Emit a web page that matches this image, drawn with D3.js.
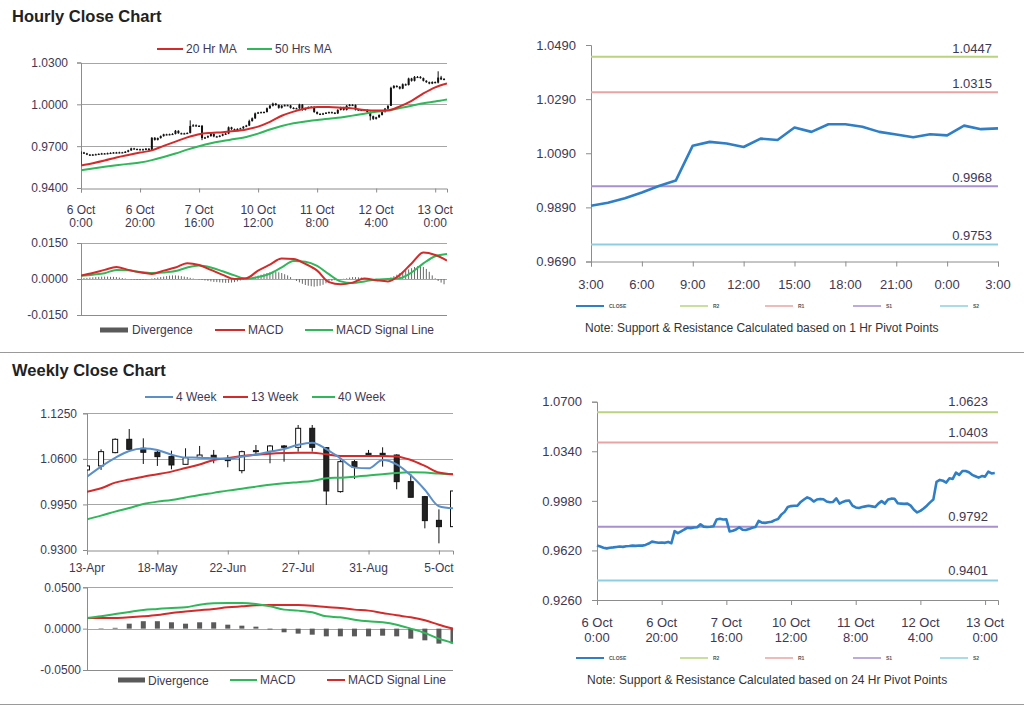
<!DOCTYPE html>
<html><head><meta charset="utf-8">
<script src="https://cdn.jsdelivr.net/npm/d3@7/dist/d3.min.js"></script>
<style>
body{margin:0;background:#fff;}
svg{display:block;font-family:"Liberation Sans",Arial,sans-serif;}
</style></head><body>
<svg id="c" width="1024" height="706"></svg>
<script>
// ---------------- DATA ----------------
// Hourly closes, 6 Oct 0:00 (index 0) ... 13 Oct 3:00 (index 123)
const hourClose = [
0.9655,0.9648,0.9640,0.9635,0.9640,0.9642,0.9645,0.9648,0.9646,0.9650,
0.9652,0.9655,0.9653,0.9656,0.9655,0.9660,0.9670,0.9684,0.9680,0.9676,
0.9678,0.9675,0.9682,0.9672,0.9760,0.9745,0.9758,0.9772,0.9785,0.9782,
0.9786,0.9788,0.9810,0.9793,0.9790,0.9792,0.9795,0.9845,0.9850,0.9845,
0.9846,0.9758,0.9763,0.9772,0.9788,0.9770,0.9768,0.9775,0.9785,0.9790,
0.9835,0.9822,0.9820,0.9824,0.9828,0.9840,0.9848,0.9880,0.9900,0.9935,
0.9942,0.9944,0.9945,0.9972,0.9990,1.0005,0.9995,0.9975,0.9990,0.9994,
0.9992,0.9975,0.9970,0.9972,0.9998,0.9960,0.9972,0.9980,0.9982,0.9945,
0.9932,0.9928,0.9935,0.9940,0.9944,0.9940,0.9935,0.9960,0.9978,0.9960,
0.9990,0.9996,0.9995,0.9962,0.9960,0.9958,0.9960,0.9945,0.9915,0.9896,
0.9907,0.9924,0.9945,0.9969,0.9989,1.0118,1.0132,1.0126,1.0113,1.0144,
1.0139,1.0185,1.0169,1.0197,1.0197,1.0188,1.0169,1.0159,1.0149,1.0160,
1.0156,1.0192,1.0179,1.0182];
// wick extents in pips above / below the candle body
const hourUpWick = [
10,4,4,3,4,4,3,4,3,4, 4,3,4,4,3,5,4,5,4,3, 4,4,5,3,5,5,4,5,4,4,
4,5,6,4,4,4,4,40,8,6, 5,6,4,5,6,4,4,4,5,5, 6,4,4,4,4,5,5,10,6,6,
4,4,4,5,6,7,5,4,5,5, 4,4,4,4,6,4,4,5,5,4, 4,4,4,4,4,4,4,5,5,4,
5,6,5,4,4,4,4,4,4,4, 4,4,4,5,5,8,6,5,5,6, 5,6,5,6,6,5,4,4,4,5,
4,45,12,6];
const hourDownWick = [
95,4,4,4,3,4,3,4,3,4, 3,4,4,4,3,4,4,4,4,4, 4,4,4,4,0,5,4,4,4,4,
4,4,4,4,5,4,4,4,5,5, 4,15,6,5,4,6,4,4,4,4, 4,5,4,4,4,4,4,4,4,5,
4,4,4,4,5,5,5,6,5,4, 4,5,5,4,5,6,4,4,4,6, 5,5,4,4,4,4,5,4,4,5,
4,4,4,6,4,4,4,6,30,8, 5,4,4,4,4,0,6,5,6,4, 5,4,6,5,4,4,5,5,5,4,
5,6,5,4];

// hourly moving averages sampled every 4 hours
const hourMaIdx = [0,4,8,12,16,20,24,28,32,36,40,44,48,52,56,60,64,68,72,76,80,84,88,92,96,100,104,108,112,116,120,124];
const ma20Hr = [0.9562,0.9578,0.9597,0.9619,0.9637,0.9654,0.9670,0.9702,0.9733,0.9763,0.9786,0.9795,0.9800,0.9808,0.9820,0.9840,
0.9874,0.9918,0.9948,0.9970,0.9981,0.9980,0.9976,0.9971,0.9960,0.9955,0.9957,0.9985,1.0025,1.0078,1.0122,1.0150];
const ma50Hr = [0.9527,0.9540,0.9552,0.9563,0.9573,0.9583,0.9600,0.9622,0.9647,0.9675,0.9700,0.9721,0.9737,0.9751,0.9766,0.9790,
0.9820,0.9845,0.9865,0.9877,0.9888,0.9897,0.9905,0.9919,0.9933,0.9946,0.9955,0.9973,0.9990,1.0008,1.0020,1.0034];
// hourly MACD sampled every 4 hours
const hourMacd = [0.0015,0.0025,0.0038,0.0050,0.0038,0.0028,0.0021,0.0035,0.0048,0.0066,0.0058,0.0038,0.0017,0.0000,0.0003,0.0035,
0.0060,0.0085,0.0083,0.0063,0.0035,-0.0013,-0.0022,-0.0015,0.0002,-0.0005,-0.0010,0.0017,0.0065,0.0110,0.0100,0.0077];
const hourSignal = [0.0013,0.0018,0.0024,0.0038,0.0036,0.0029,0.0025,0.0027,0.0033,0.0048,0.0056,0.0048,0.0032,0.0015,0.0001,0.0008,
0.0022,0.0048,0.0075,0.0072,0.0055,0.0020,-0.0010,-0.0017,-0.0010,-0.0002,0.0000,0.0003,0.0027,0.0065,0.0095,0.0104];
const hourDiverg = [
0.0003,0.0004,0.0005,0.0006,
0.0007,0.0008,0.0009,0.0010,0.0010,0.0010,0.0009,0.0009,0.0008,0.0006,0.0004,0.0002,
0.0000,-0.0002,-0.0003,-0.0004,-0.0004,-0.0003,-0.0002,
0.0000,0.0002,0.0004,0.0006,0.0008,
0.0010,0.0012,0.0014,0.0015,0.0015,0.0014,0.0012,0.0010,0.0008,0.0005,
0.0002,0.0000,-0.0002,
-0.0004,-0.0006,-0.0008,-0.0010,-0.0012,-0.0013,-0.0014,-0.0015,-0.0016,-0.0016,-0.0015,-0.0013,-0.0010,
-0.0006,-0.0003,0.0000,0.0003,0.0006,
0.0010,0.0014,0.0018,0.0022,0.0025,0.0028,0.0030,0.0030,0.0028,0.0025,0.0020,0.0015,
0.0008,0.0000,-0.0008,-0.0014,-0.0020,-0.0025,-0.0028,-0.0030,-0.0032,-0.0030,-0.0028,-0.0024,-0.0018,-0.0012,-0.0008,
-0.0005,-0.0003,-0.0001,0.0001,0.0003,
0.0006,0.0008,0.0008,0.0007,0.0006,0.0004,
0.0002,0.0000,-0.0001,-0.0002,-0.0002,-0.0001,0.0000,0.0002,
0.0006,0.0012,0.0018,0.0024,0.0030,0.0036,0.0040,0.0045,0.0050,0.0053,0.0055,0.0050,0.0042,0.0030,0.0015,
0.0003,-0.0008,-0.0015,-0.0022];

const hourTickIdx = [0,20,40,60,80,100,120];
const hourTickLabels = [["6 Oct","0:00"],["6 Oct","20:00"],["7 Oct","16:00"],["10 Oct","12:00"],["11 Oct","8:00"],["12 Oct","4:00"],["13 Oct","0:00"]];
const hourYTicks = [0.9400,0.9700,1.0000,1.0300];
const hourMacdTicks = [-0.0150,0.0000,0.0150];

// 1 hr pivots (top-right): last 25 hourly closes, 3:00 .. 3:00
const pivotStart1h = 99;
const shortTickLabels = ["3:00","6:00","9:00","12:00","15:00","18:00","21:00","0:00","3:00"];
const shortYTicks = [0.9690,0.9890,1.0090,1.0290,1.0490];
const pivot1hNames = ["R2","R1","S1","S2"];
const pivot1hValues = [1.0447,1.0315,0.9968,0.9753];
// 24 hr pivots (bottom-right)
const longYTicks = [0.9260,0.9620,0.9980,1.0340,1.0700];
const pivot24hValues = [1.0623,1.0403,0.9792,0.9401];
const pivotColors = ["#b9d37f","#e8a4a4","#a78fd0","#8ccfe2"];

// Weekly candles, week of 13-Apr (0) ... 12-Oct (26)
const weekOpen  = [1.0442,1.0499,1.0689,1.0879,1.0751,1.0694,1.0632,1.0522,1.0617,1.0651,1.0603,1.0432,1.0717,1.0708,1.0784,1.0765,1.1036,1.0760,1.0133,1.0560,1.0679,1.0679,1.0655,1.0275,1.0061,0.9723,0.9633];
const weekHigh  = [1.0505,1.0736,1.0893,1.1026,1.0893,1.0736,1.0717,1.0751,1.0784,1.0727,1.0655,1.0717,1.0798,1.0798,1.0798,1.1083,1.1083,1.0760,1.0584,1.0584,1.0727,1.0765,1.0665,1.0385,1.0071,0.9880,1.0142];
const weekLow   = [1.0435,1.0442,1.0680,1.0727,1.0527,1.0499,1.0451,1.0522,1.0617,1.0537,1.0480,1.0394,1.0655,1.0537,1.0560,1.0703,1.0703,0.9942,1.0118,1.0313,1.0651,1.0489,1.0166,1.0052,0.9609,0.9395,0.9633];
const weekClose = [1.0499,1.0703,1.0879,1.0736,1.0694,1.0632,1.0513,1.0617,1.0655,1.0608,1.0575,1.0703,1.0708,1.0784,1.0765,1.1036,1.0765,1.0142,1.0560,1.0480,1.0660,1.0655,1.0275,1.0052,0.9719,0.9633,1.0142];
const ma4Week  = [1.0346,1.0490,1.0615,1.0713,1.0748,1.0727,1.0660,1.0620,1.0617,1.0608,1.0600,1.0630,1.0662,1.0703,1.0740,1.0800,1.0830,1.0740,1.0608,1.0475,1.0465,1.0584,1.0522,1.0365,1.0160,0.9925,0.9895];
const ma13Week = [1.0132,1.0180,1.0261,1.0305,1.0346,1.0380,1.0418,1.0470,1.0520,1.0584,1.0610,1.0640,1.0658,1.0672,1.0682,1.0689,1.0689,1.0665,1.0641,1.0641,1.0641,1.0641,1.0635,1.0584,1.0500,1.0405,1.0380];
const ma40Week = [0.9738,0.9790,0.9847,0.9900,0.9956,0.9990,1.0013,1.0050,1.0085,1.0115,1.0147,1.0175,1.0204,1.0230,1.0251,1.0268,1.0285,1.0323,1.0332,1.0346,1.0361,1.0380,1.0400,1.0408,1.0404,1.0390,1.0380];
const weekMacd   = [0.0129,0.0149,0.0177,0.0202,0.0226,0.0238,0.0250,0.0258,0.0290,0.0306,0.0310,0.0310,0.0298,0.0270,0.0230,0.0218,0.0198,0.0149,0.0137,0.0109,0.0089,0.0077,0.0048,0.0000,-0.0052,-0.0121,-0.0173];
const weekSignal = [0.0129,0.0129,0.0129,0.0137,0.0149,0.0165,0.0190,0.0206,0.0222,0.0238,0.0258,0.0270,0.0282,0.0286,0.0286,0.0286,0.0278,0.0262,0.0250,0.0230,0.0218,0.0190,0.0161,0.0137,0.0101,0.0048,0.0000];
const weekDiverg = [0,0.0005,0.0010,0.0060,0.0090,0.0090,0.0077,0.0060,0.0077,0.0077,0.0048,0.0036,0.0024,-0.0010,-0.0044,-0.0060,-0.0073,-0.0093,-0.0093,-0.0093,-0.0093,-0.0085,-0.0093,-0.0121,-0.0141,-0.0181,-0.0180];
const weekTickIdx = [0,5,10,15,20,25];
const weekTickLabels = ["13-Apr","18-May","22-Jun","27-Jul","31-Aug","5-Oct"];
const weekYTicks = [0.9300,0.9950,1.0600,1.1250];
const weekMacdTicks = [-0.0500,0.0000,0.0500];

// ---------------- STYLE ----------------
const RED = "#d42a2a", GREEN = "#2fb75a", BLUE4 = "#5b8fc9", CLOSEBLUE = "#2f7fc6";
const GRID = "#a6a6a6", AXIS = "#8c8c8c", TXT = "#3e3852", BAR = "#5a5a5a";
const fmt = d => d.toFixed(4);

const svg = d3.select("#c");
svg.append("rect").attr("width",1024).attr("height",706).attr("fill","#fff");
const defs = svg.append("defs");

function text(x,y,s,opt={}){
  return svg.append("text").attr("x",x).attr("y",y).text(s)
    .attr("font-size",opt.size||12).attr("fill",opt.fill||TXT)
    .attr("text-anchor",opt.anchor||"start").attr("font-weight",opt.weight||"normal");
}
function clip(id,x0,y0,x1,y1){
  defs.append("clipPath").attr("id",id).append("rect").attr("x",x0).attr("y",y0-3).attr("width",x1-x0).attr("height",y1-y0+6);
  return "url(#"+id+")";
}
// left-style y axis with gridlines
function yAxisGrid(y, ticks, x0, x1, gridTicks, pad){
  svg.append("g").selectAll("line").data(gridTicks).join("line")
    .attr("x1",x0).attr("x2",x1).attr("y1",d=>Math.round(y(d))+0.5).attr("y2",d=>Math.round(y(d))+0.5)
    .attr("stroke",GRID).attr("stroke-width",1);
  const ax = svg.append("g").attr("transform",`translate(${x0},0)`)
    .call(d3.axisLeft(y).tickValues(ticks).tickFormat(fmt).tickSize(4).tickPadding(pad));
  ax.select(".domain").attr("stroke",AXIS);
  ax.selectAll(".tick line").attr("stroke",AXIS);
  ax.selectAll("text").attr("fill",TXT).attr("font-size",12).attr("font-family","Liberation Sans, Arial, sans-serif");
  return ax;
}
function legendLine(x1,x2,y,color,label,w=2){
  svg.append("line").attr("x1",x1).attr("x2",x2).attr("y1",y).attr("y2",y).attr("stroke",color).attr("stroke-width",w);
  text(x2+3,y+4,label,{size:12});
}

// ---------------- TITLES & SEPARATORS ----------------
text(12,22,"Hourly Close Chart",{size:16.5,weight:"bold",fill:"#222"});
text(12,376,"Weekly Close Chart",{size:16.5,weight:"bold",fill:"#222"});
svg.append("line").attr("x1",0).attr("x2",1024).attr("y1",352.5).attr("y2",352.5).attr("stroke","#9a9a9a");
svg.append("line").attr("x1",0).attr("x2",1024).attr("y1",704.5).attr("y2",704.5).attr("stroke","#9a9a9a");

// ---------------- PANEL 1: hourly candles ----------------
{
  const x = d3.scaleLinear().domain([0,124]).range([81,447]);
  const y = d3.scaleLinear().domain([0.94,1.03]).range([188,62.5]);
  yAxisGrid(y, hourYTicks, 81, 447, hourYTicks.slice(1), 9);
  const xa = svg.append("g").attr("transform","translate(0,188.5)")
    .call(d3.axisBottom(x).tickValues(hourTickIdx).tickFormat("").tickSize(4));
  xa.select(".domain").attr("stroke",AXIS); xa.selectAll(".tick line").attr("stroke",AXIS);
  hourTickIdx.forEach((t,i)=>{
    text(x(t),214,hourTickLabels[i][0],{anchor:"middle"});
    text(x(t),227,hourTickLabels[i][1],{anchor:"middle"});
  });
  const g = svg.append("g").attr("clip-path",clip("c1",81,62,447,188));
  const candles = hourClose.map((c,i)=>{
    const o = i===0 ? c : hourClose[i-1];
    return {i,o,c,h:Math.max(o,c)+hourUpWick[i]/10000,l:Math.min(o,c)-hourDownWick[i]/10000};
  });
  g.selectAll("line.wick").data(candles).join("line")
    .attr("x1",d=>x(d.i)).attr("x2",d=>x(d.i)).attr("y1",d=>y(d.h)).attr("y2",d=>y(d.l))
    .attr("stroke","#111").attr("stroke-width",1);
  g.selectAll("rect.body").data(candles).join("rect")
    .attr("x",d=>x(d.i)-1).attr("width",2)
    .attr("y",d=>y(Math.max(d.o,d.c))).attr("height",d=>Math.max(1.2,Math.abs(y(d.o)-y(d.c))))
    .attr("fill","#111");
  const line = d3.line().x((d,i)=>x(hourMaIdx[i])).y(d=>y(d)).curve(d3.curveMonotoneX);
  g.append("path").attr("d",line(ma50Hr)).attr("fill","none").attr("stroke",GREEN).attr("stroke-width",2);
  g.append("path").attr("d",line(ma20Hr)).attr("fill","none").attr("stroke",RED).attr("stroke-width",2);
  legendLine(157,183,49,RED,"20 Hr MA");
  legendLine(247,272,49,GREEN,"50 Hrs MA");
}

// ---------------- PANEL 2: hourly MACD ----------------
{
  const x = d3.scaleLinear().domain([0,124]).range([81,447]);
  const y = d3.scaleLinear().domain([-0.015,0.015]).range([315,243]);
  yAxisGrid(y, hourMacdTicks, 81, 447, [0.015,0], 9);
  svg.append("line").attr("x1",81).attr("x2",447).attr("y1",315.5).attr("y2",315.5).attr("stroke",AXIS);
  const g = svg.append("g").attr("clip-path",clip("c2",81,243,447,315));
  g.selectAll("rect.dv").data(hourDiverg).join("rect")
    .attr("x",(d,i)=>x(i)-0.5).attr("width",1)
    .attr("y",d=>y(Math.max(0,d))).attr("height",d=>Math.abs(y(d)-y(0)))
    .attr("fill","#6a6a6a");
  const line = d3.line().x((d,i)=>x(hourMaIdx[i])).y(d=>y(d)).curve(d3.curveMonotoneX);
  g.append("path").attr("d",line(hourSignal)).attr("fill","none").attr("stroke",GREEN).attr("stroke-width",2);
  g.append("path").attr("d",line(hourMacd)).attr("fill","none").attr("stroke",RED).attr("stroke-width",2);
  svg.append("rect").attr("x",100).attr("y",327.5).attr("width",28).attr("height",5).attr("fill",BAR);
  text(132,334,"Divergence");
  legendLine(215,245,330,RED,"MACD");
  legendLine(305,333,330,GREEN,"MACD Signal Line");
}

// ---------------- right-side line chart helper ----------------
function pivotChart(o){
  const x = d3.scaleLinear().domain(o.xDomain).range([o.x0,o.x1]);
  const y = d3.scaleLinear().domain([o.yTicks[0],o.yTicks[o.yTicks.length-1]]).range([o.y1,o.y0]);
  const ay = svg.append("g").attr("transform",`translate(${o.x0},0)`)
    .call(d3.axisLeft(y).tickValues(o.yTicks).tickFormat(fmt).tickSize(5).tickPadding(10));
  ay.select(".domain").attr("stroke",AXIS); ay.selectAll(".tick line").attr("stroke",AXIS);
  ay.selectAll("text").attr("fill",TXT).attr("font-size",13).attr("font-family","Liberation Sans, Arial, sans-serif");
  const ax = svg.append("g").attr("transform",`translate(0,${o.y1})`)
    .call(d3.axisBottom(x).tickValues(o.xTicks).tickFormat("").tickSize(5));
  ax.select(".domain").attr("stroke",AXIS); ax.selectAll(".tick line").attr("stroke",AXIS);
  o.xTicks.forEach((t,i)=>{
    const lab = o.xLabels[i];
    if (Array.isArray(lab)){
      text(x(t),o.y1+27,lab[0],{anchor:"middle",size:13});
      text(x(t),o.y1+42,lab[1],{anchor:"middle",size:13});
    } else text(x(t),o.y1+27,lab,{anchor:"middle",size:13});
  });
  o.pivots.forEach((v,i)=>{
    svg.append("line").attr("x1",o.x0).attr("x2",o.x1).attr("y1",y(v)).attr("y2",y(v))
      .attr("stroke",pivotColors[i]).attr("stroke-width",2);
    text(o.labelX,y(v)-o.labelGap,fmt(v),{anchor:"end",size:13});
  });
  svg.append("path").attr("d",d3.line().x((d,i)=>x(i)).y(d=>y(d))(o.data))
    .attr("fill","none").attr("stroke",CLOSEBLUE).attr("stroke-width",2.6).attr("stroke-linejoin","round");
  const ly = o.legendY;
  const items = [["CLOSE",CLOSEBLUE,576]].concat(pivot1hNames.map((n,i)=>[n,pivotColors[i],[680,765,853,940][i]]));
  items.forEach(([n,c,lx],i)=>{
    svg.append("line").attr("x1",lx).attr("x2",lx+28).attr("y1",ly).attr("y2",ly).attr("stroke",c).attr("stroke-width",i===0?2:1.5);
    text(lx+33,ly+2,n,{size:5,fill:"#555",weight:"bold"});
  });
  text(o.noteX,o.noteY,o.note,{size:12,fill:"#333"});
}

// ---------------- PANEL 3: 1 hr pivots ----------------
pivotChart({
  xDomain:[0,24], x0:591, x1:998, y0:45, y1:261.5,
  yTicks:shortYTicks, xTicks:d3.range(0,25,3), xLabels:shortTickLabels,
  pivots:pivot1hValues, labelX:992, labelGap:4,
  data:hourClose.slice(pivotStart1h),
  legendY:306, noteX:585, noteY:332,
  note:"Note: Support & Resistance Calculated based on 1 Hr Pivot Points"
});

// ---------------- PANEL 6: 24 hr pivots ----------------
pivotChart({
  xDomain:[0,124], x0:597, x1:998, y0:401.7, y1:600,
  yTicks:longYTicks, xTicks:hourTickIdx, xLabels:hourTickLabels,
  pivots:pivot24hValues, labelX:988, labelGap:6,
  data:hourClose,
  legendY:658, noteX:587, noteY:684,
  note:"Note: Support & Resistance Calculated based on 24 Hr Pivot Points"
});

// ---------------- PANEL 4: weekly candles ----------------
{
  const x = d3.scaleLinear().domain([0,26]).range([87,453]);
  const y = d3.scaleLinear().domain([0.93,1.125]).range([550,413.3]);
  yAxisGrid(y, weekYTicks, 87, 453, weekYTicks.slice(1), 6);
  const xa = svg.append("g").attr("transform","translate(0,550.5)")
    .call(d3.axisBottom(x).tickValues(weekTickIdx).tickFormat("").tickSize(4));
  xa.select(".domain").attr("stroke",AXIS); xa.selectAll(".tick line").attr("stroke",AXIS);
  weekTickIdx.forEach((t,i)=>text(x(t),572,weekTickLabels[i],{anchor:"middle"}));
  const g = svg.append("g").attr("clip-path",clip("c4",87,413,453,550));
  const w = weekOpen.map((o,i)=>({i,o,h:weekHigh[i],l:weekLow[i],c:weekClose[i]}));
  g.selectAll("line.wk").data(w).join("line")
    .attr("x1",d=>x(d.i)).attr("x2",d=>x(d.i)).attr("y1",d=>y(d.h)).attr("y2",d=>y(d.l))
    .attr("stroke","#111").attr("stroke-width",1);
  g.selectAll("rect.wb").data(w).join("rect")
    .attr("x",d=>x(d.i)-2.5).attr("width",5)
    .attr("y",d=>y(Math.max(d.o,d.c))).attr("height",d=>Math.max(1,Math.abs(y(d.o)-y(d.c))))
    .attr("fill",d=>d.c>=d.o?"#fff":"#222").attr("stroke","#111").attr("stroke-width",1);
  const line = d3.line().x((d,i)=>x(i)).y(d=>y(d)).curve(d3.curveMonotoneX);
  g.append("path").attr("d",line(ma40Week)).attr("fill","none").attr("stroke",GREEN).attr("stroke-width",2);
  g.append("path").attr("d",line(ma13Week)).attr("fill","none").attr("stroke",RED).attr("stroke-width",2);
  g.append("path").attr("d",line(ma4Week)).attr("fill","none").attr("stroke",BLUE4).attr("stroke-width",2);
  legendLine(145,173,397,BLUE4,"4 Week");
  legendLine(223,248,397,RED,"13 Week");
  legendLine(312,335,397,GREEN,"40 Week");
}

// ---------------- PANEL 5: weekly MACD ----------------
{
  const x = d3.scaleLinear().domain([0,26]).range([87,453]);
  const y = d3.scaleLinear().domain([-0.05,0.05]).range([670,587.3]);
  yAxisGrid(y, weekMacdTicks, 87, 453, [0.05,0], 2);
  svg.append("line").attr("x1",87).attr("x2",453).attr("y1",670.5).attr("y2",670.5).attr("stroke",AXIS);
  const g = svg.append("g").attr("clip-path",clip("c5",87,587,453,670));
  g.selectAll("rect.wd").data(weekDiverg).join("rect")
    .attr("x",(d,i)=>x(i)-2.5).attr("width",5)
    .attr("y",d=>y(Math.max(0,d))).attr("height",d=>Math.abs(y(d)-y(0)))
    .attr("fill",BAR);
  const line = d3.line().x((d,i)=>x(i)).y(d=>y(d)).curve(d3.curveMonotoneX);
  g.append("path").attr("d",line(weekSignal)).attr("fill","none").attr("stroke",RED).attr("stroke-width",2);
  g.append("path").attr("d",line(weekMacd)).attr("fill","none").attr("stroke",GREEN).attr("stroke-width",2);
  svg.append("rect").attr("x",118).attr("y",677.5).attr("width",27).attr("height",5).attr("fill",BAR);
  text(148,685,"Divergence");
  legendLine(230,257,680,GREEN,"MACD");
  legendLine(327,345,680,RED,"MACD Signal Line");
}
</script>
</body></html>
